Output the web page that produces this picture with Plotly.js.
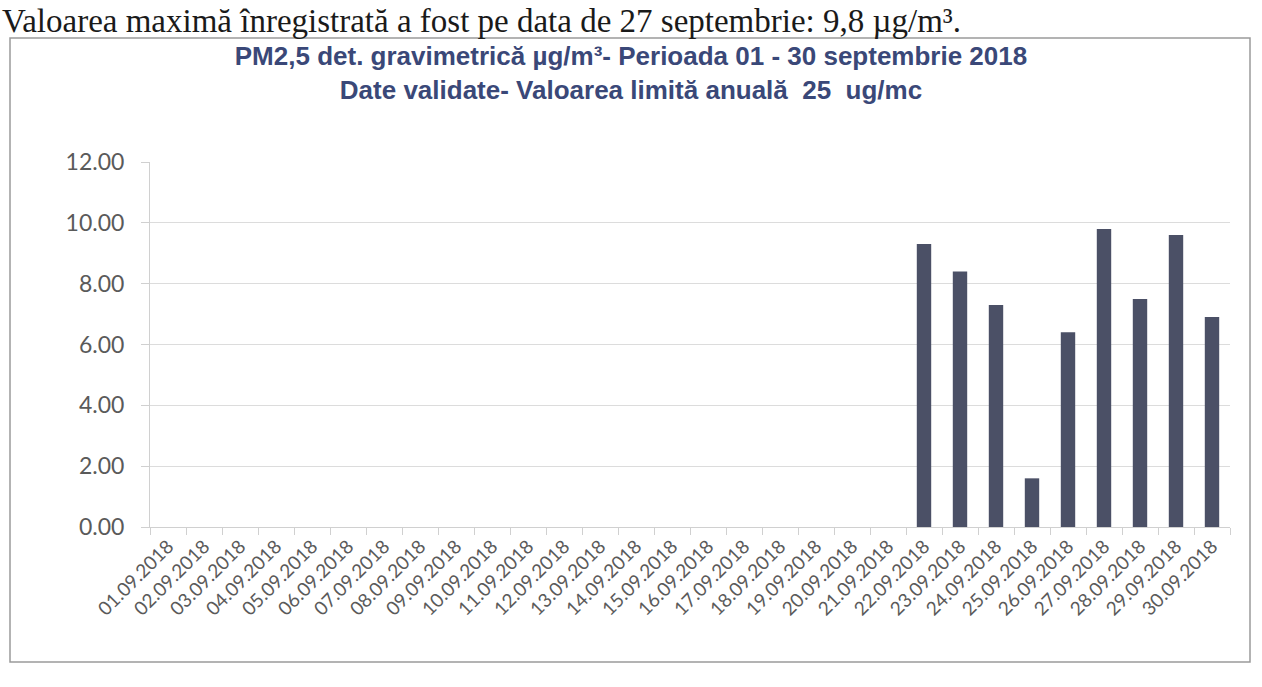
<!DOCTYPE html>
<html>
<head>
<meta charset="utf-8">
<script src="https://cdn.plot.ly/plotly-3.0.1.min.js"></script>
<style>
html,body{margin:0;padding:0;background:#fff;}
#chart{width:1262px;height:687px;}
</style>
</head>
<body>
<div id="chart"></div>
<script>
// Data
const categories = ["01.09.2018","02.09.2018","03.09.2018","04.09.2018","05.09.2018","06.09.2018",
  "07.09.2018","08.09.2018","09.09.2018","10.09.2018","11.09.2018","12.09.2018","13.09.2018",
  "14.09.2018","15.09.2018","16.09.2018","17.09.2018","18.09.2018","19.09.2018","20.09.2018",
  "21.09.2018","22.09.2018","23.09.2018","24.09.2018","25.09.2018","26.09.2018","27.09.2018",
  "28.09.2018","29.09.2018","30.09.2018"];
const pm25Values = [null,null,null,null,null,null,null,null,null,null,null,null,null,null,null,
  null,null,null,null,null,null,9.3,8.4,7.3,1.6,6.4,9.8,7.5,9.6,6.9];
const yTickValues = [0,2,4,6,8,10,12];
const yTickLabels = ["0.00","2.00","4.00","6.00","8.00","10.00","12.00"];
const titleLine1 = "PM2,5 det. gravimetrică µg/m³- Perioada 01 - 30 septembrie 2018";
const titleLine2 = "Date validate- Valoarea limită anuală  25  ug/mc";
const headerText = "Valoarea maximă înregistrată a fost pe data de 27 septembrie: 9,8 µg/m³.";

const M = {l:150, r:32, t:162, b:160};
const W = 1262, H = 687;
const pw = W - M.l - M.r, ph = H - M.t - M.b;
const px = x => (x - M.l) / pw;
const py = y => (H - M.b - y) / ph;

const trace = {
  type: 'bar',
  x: categories,
  y: pm25Values,
  marker: {color: '#4b5066', line: {width: 0}},
  hoverinfo: 'x+y'
};

const layout = {
  width: W, height: H,
  margin: M,
  paper_bgcolor: '#ffffff',
  plot_bgcolor: '#ffffff',
  showlegend: false,
  bargap: 0.6,
  title: {
    text: titleLine1 + '<br>' + titleLine2,
    font: {family: 'Liberation Sans, Arial, sans-serif', size: 26, color: '#3a4878', weight: 'bold'},
    x: 0.5, xanchor: 'center',
    y: 1 - 65/H, yanchor: 'middle'
  },
  xaxis: {
    type: 'category',
    tickangle: -45,
    tickfont: {family: 'Lato, sans-serif', size: 19, color: '#5a5a5a'},
    ticks: 'outside', tickson: 'boundaries', ticklen: 7, tickcolor: '#d0d0d0',
    showline: true, linecolor: '#d0d0d0', linewidth: 1,
    showgrid: false, fixedrange: true
  },
  yaxis: {
    range: [0, 12],
    tickvals: yTickValues,
    ticktext: yTickLabels,
    tickfont: {family: 'Lato, sans-serif', size: 23, color: '#5a5a5a'},
    ticks: 'outside', ticklen: 8, tickcolor: '#d0d0d0',
    ticklabelstandoff: 12,
    showline: true, linecolor: '#d0d0d0', linewidth: 1,
    showgrid: true, gridcolor: '#dcdcdc', gridwidth: 1,
    zeroline: false, fixedrange: true
  },
  shapes: [{
    type: 'rect', xref: 'paper', yref: 'paper',
    x0: px(10), x1: px(1250), y0: py(662), y1: py(38),
    line: {color: '#9a9a9a', width: 1.5}, fillcolor: 'rgba(0,0,0,0)'
  }],
  annotations: [{
    text: headerText,
    xref: 'paper', yref: 'paper',
    x: px(0), y: py(41), xanchor: 'left', yanchor: 'bottom',
    showarrow: false,
    font: {family: 'Liberation Serif, Times New Roman, serif', size: 33, color: '#1a1a1a'}
  }]
};

Plotly.newPlot('chart', [trace], layout, {displayModeBar: false, staticPlot: true});
</script>
</body>
</html>
